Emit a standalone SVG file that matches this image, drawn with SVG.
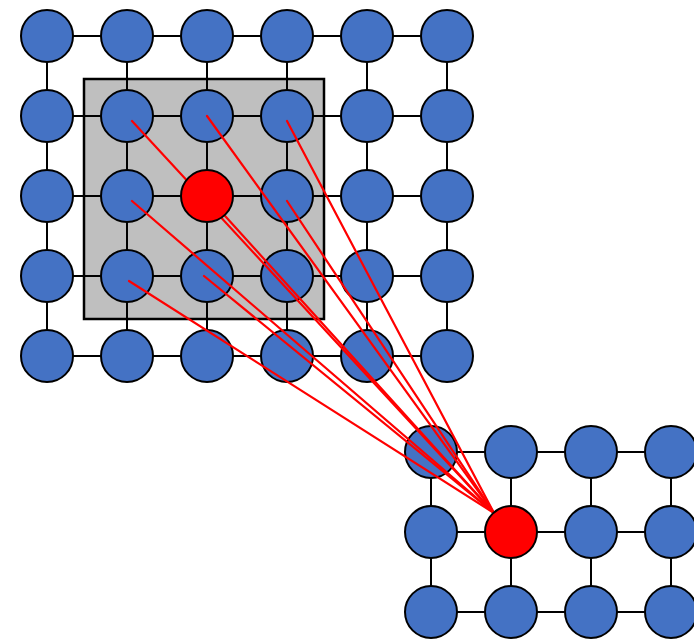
<svg xmlns="http://www.w3.org/2000/svg" width="694" height="640" viewBox="0 0 694 640">
  <style>
    .edge { stroke: #000; stroke-width: 2; fill: none; }
    .node { fill: #4472C4; stroke: #000; stroke-width: 2; }
    .hot { fill: #FF0000; stroke: #000; stroke-width: 2; }
    .ray { stroke: #FF0000; stroke-width: 2.2; fill: none; stroke-linecap: round; }
    .window { fill: #BFBFBF; stroke: #000; stroke-width: 2.5; }
  </style>
  <rect width="694" height="640" fill="#fff"/>

  <!-- 3x3 receptive window on the input grid -->
  <rect id="window" class="window" x="84" y="79" width="240" height="240"/>

  <!-- lattice connectors -->
  <g id="edges" class="edge">
    <!-- input grid: rows -->
    <path d="M47 36H447M47 116H447M47 196H447M47 276H447M47 356H447"/>
    <!-- input grid: columns -->
    <path d="M47 36V356M127 36V356M207 36V356M287 36V356M367 36V356M447 36V356"/>
    <!-- output grid: rows -->
    <path d="M431 452H694M431 532H694M431 612H694"/>
    <!-- output grid: columns -->
    <path d="M431 452V612M511 452V612M591 452V612M671 452V612"/>
  </g>

  <!-- input grid nodes -->
  <g id="input-grid">
    <g id="in-0-0"><circle class="node" cx="47" cy="36" r="26"/></g>
    <g id="in-0-1"><circle class="node" cx="127" cy="36" r="26"/></g>
    <g id="in-0-2"><circle class="node" cx="207" cy="36" r="26"/></g>
    <g id="in-0-3"><circle class="node" cx="287" cy="36" r="26"/></g>
    <g id="in-0-4"><circle class="node" cx="367" cy="36" r="26"/></g>
    <g id="in-0-5"><circle class="node" cx="447" cy="36" r="26"/></g>

    <g id="in-1-0"><circle class="node" cx="47" cy="116" r="26"/></g>
    <g id="in-1-1"><circle class="node" cx="127" cy="116" r="26"/></g>
    <g id="in-1-2"><circle class="node" cx="207" cy="116" r="26"/></g>
    <g id="in-1-3"><circle class="node" cx="287" cy="116" r="26"/></g>
    <g id="in-1-4"><circle class="node" cx="367" cy="116" r="26"/></g>
    <g id="in-1-5"><circle class="node" cx="447" cy="116" r="26"/></g>

    <g id="in-2-0"><circle class="node" cx="47" cy="196" r="26"/></g>
    <g id="in-2-1"><circle class="node" cx="127" cy="196" r="26"/></g>
    <g id="in-2-3"><circle class="node" cx="287" cy="196" r="26"/></g>
    <g id="in-2-4"><circle class="node" cx="367" cy="196" r="26"/></g>
    <g id="in-2-5"><circle class="node" cx="447" cy="196" r="26"/></g>

    <g id="in-3-0"><circle class="node" cx="47" cy="276" r="26"/></g>
    <g id="in-3-1"><circle class="node" cx="127" cy="276" r="26"/></g>
    <g id="in-3-2"><circle class="node" cx="207" cy="276" r="26"/></g>
    <g id="in-3-3"><circle class="node" cx="287" cy="276" r="26"/></g>
    <g id="in-3-4"><circle class="node" cx="367" cy="276" r="26"/></g>
    <g id="in-3-5"><circle class="node" cx="447" cy="276" r="26"/></g>

    <g id="in-4-0"><circle class="node" cx="47" cy="356" r="26"/></g>
    <g id="in-4-1"><circle class="node" cx="127" cy="356" r="26"/></g>
    <g id="in-4-2"><circle class="node" cx="207" cy="356" r="26"/></g>
    <g id="in-4-3"><circle class="node" cx="287" cy="356" r="26"/></g>
    <g id="in-4-4"><circle class="node" cx="367" cy="356" r="26"/></g>
    <g id="in-4-5"><circle class="node" cx="447" cy="356" r="26"/></g>
  </g>

  <!-- output grid nodes -->
  <g id="output-grid">
    <g id="out-0-0"><circle class="node" cx="431" cy="452" r="26"/></g>
    <g id="out-0-1"><circle class="node" cx="511" cy="452" r="26"/></g>
    <g id="out-0-2"><circle class="node" cx="591" cy="452" r="26"/></g>
    <g id="out-0-3"><circle class="node" cx="671" cy="452" r="26"/></g>

    <g id="out-1-0"><circle class="node" cx="431" cy="532" r="26"/></g>
    <g id="out-1-2"><circle class="node" cx="591" cy="532" r="26"/></g>
    <g id="out-1-3"><circle class="node" cx="671" cy="532" r="26"/></g>

    <g id="out-2-0"><circle class="node" cx="431" cy="612" r="26"/></g>
    <g id="out-2-1"><circle class="node" cx="511" cy="612" r="26"/></g>
    <g id="out-2-2"><circle class="node" cx="591" cy="612" r="26"/></g>
    <g id="out-2-3"><circle class="node" cx="671" cy="612" r="26"/></g>
  </g>

  <!-- aggregation rays from the window to the output node -->
  <g id="rays" class="ray">
    <line x1="132" y1="121" x2="494" y2="513"/>
    <line x1="207" y1="116" x2="494" y2="513"/>
    <line x1="287" y1="121" x2="494" y2="513"/>
    <line x1="132" y1="201" x2="494" y2="513"/>
    <line x1="207" y1="196" x2="494" y2="513"/>
    <line x1="287" y1="201" x2="494" y2="513"/>
    <line x1="129" y1="281" x2="494" y2="513"/>
    <line x1="204" y1="276" x2="494" y2="513"/>
  </g>

  <!-- highlighted centre node and its output -->
  <g id="in-2-2"><circle class="hot" cx="207" cy="196" r="26"/></g>
  <g id="out-1-1"><circle class="hot" cx="511" cy="532" r="26"/></g>
</svg>
